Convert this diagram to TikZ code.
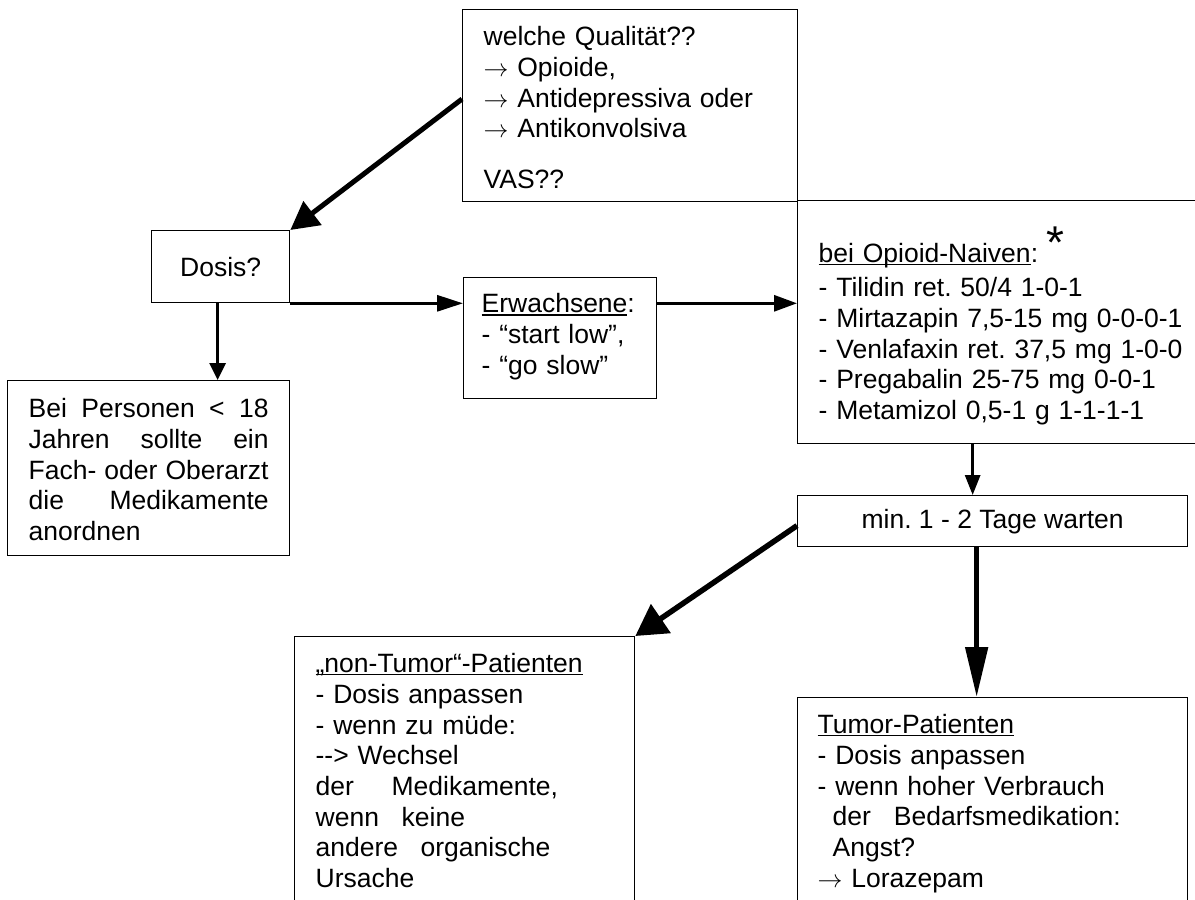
\documentclass[tikz,border=0pt]{standalone}
\usepackage{fontspec}
\setmainfont{Liberation Sans}
\usetikzlibrary{arrows.meta}
\newsavebox\ulbox
\newcommand\ulx[1]{\sbox\ulbox{#1}\rlap{\rule[-2.6pt]{\wd\ulbox}{1.2pt}}\usebox\ulbox}
\newcommand\arr{$\rightarrow$}
\newcommand\just[1]{\leavevmode\hbox to 240pt{#1}}
\tikzset{
  every node/.style={font=\fontsize{26.5pt}{30.7pt}\selectfont\frenchspacing},
  box/.style={draw, line width=1.3pt, rectangle, inner ysep=0pt, align=left},
  conn/.style n args={3}{line width=#1, -{Triangle[length=#2,width=#3]}},
}
\begin{document}
\begin{tikzpicture}[x=1pt,y=-1pt]
\useasboundingbox (0,0) rectangle (1195,900);
\fill[white] (0,0) rectangle (1195,900);
\clip (0,0) rectangle (1195,900);

\node[box, anchor=north west, inner xsep=21pt, text width=293pt, minimum width=335pt, minimum height=191pt] (qual) at (462,9)
{\rule{0pt}{36pt}welche Qualität??\\
\arr\ Opioide,\\
\arr\ Antidepressiva oder\\
\arr\ Antikonvolsiva\\[20pt]
VAS??\rule[-13pt]{0pt}{13pt}};

\node[box, anchor=north west, minimum width=138pt, minimum height=72pt, align=center] (dosis) at (151,230) {Dosis?};

\node[box, anchor=north west, inner xsep=21pt, text width=240pt, minimum width=282pt, minimum height=175pt] (pers) at (7,380)
{\rule{0pt}{37pt}\just{Bei\hfill Personen\hfill <\hfill 18}\\
\just{Jahren\hfill sollte\hfill ein}\\
\just{Fach-\hfill oder\hfill Oberarzt}\\
\just{die\hfill Medikamente}\\
anordnen\rule[-15pt]{0pt}{15pt}};

\node[box, anchor=north west, inner xsep=18pt, text width=157pt, minimum width=193pt, minimum height=121pt] (erw) at (463,277)
{\rule{0pt}{35pt}\ulx{Erwachsene}:\\
- “start low”,\\
- “go slow”\rule[-24pt]{0pt}{24pt}};

\node[box, anchor=north west, inner xsep=21pt, text width=460pt, minimum width=502pt, minimum height=243pt] (opi) at (797,200)
{\rule{0pt}{62pt}\ulx{bei Opioid-Naiven}:\\[3.5pt]
- Tilidin ret. 50/4 1-0-1\\
- Mirtazapin 7,5-15 mg 0-0-0-1\\
- Venlafaxin ret. 37,5 mg 1-0-0\\
- Pregabalin 25-75 mg 0-0-1\\
- Metamizol 0,5-1 g 1-1-1-1\rule[-24pt]{0pt}{24pt}};

\node[font=\fontsize{46pt}{46pt}\selectfont, anchor=base, inner sep=0pt] (star) at (1055,258) {*};

\node[box, anchor=north west, minimum width=390pt, minimum height=51pt, align=center] (wait) at (797,495) {min. 1 - 2 Tage warten};

\node[box, anchor=north west, inner xsep=21pt, text width=298pt, minimum width=340pt] (nont) at (294,636)
{\rule{0pt}{36pt}\ulx{„non-Tumor“-Patienten}\\
- Dosis anpassen\\
- wenn zu müde:\\
-\kern0pt-\kern0pt> Wechsel\\
der\hspace{37.7pt}Medikamente,\\
wenn\hspace{22.7pt}keine\\
andere\hspace{22.5pt}organische\\
Ursache\rule[-45pt]{0pt}{45pt}};

\node[box, anchor=north west, inner xsep=20pt, text width=350pt, minimum width=390pt] (tum) at (797,697)
{\rule{0pt}{36pt}\ulx{Tumor-Patienten}\\
- Dosis anpassen\\
- wenn hoher Verbrauch\\
\hspace*{15pt}der\hspace{23pt}Bedarfsmedikation:\\
\hspace*{15pt}Angst?\\
\arr\ Lorazepam\rule[-45pt]{0pt}{45pt}};

\draw[conn={5pt}{28pt}{29pt}] ([yshift=6.5pt]qual.west) -- (dosis.north east);
\draw[conn={3pt}{17pt}{16pt}] ([xshift=-3pt]dosis.south) -- ([xshift=-3pt]dosis.south |- pers.north);
\draw[conn={3pt}{26pt}{16pt}] (dosis.south east) -- (dosis.south east -| erw.west);
\draw[conn={3pt}{23pt}{16pt}] (dosis.south east -| erw.east) -- (dosis.south east -| opi.west);
\draw[conn={3pt}{20pt}{15pt}] ([xshift=-20pt]wait.north |- opi.south) -- ([xshift=-20pt]wait.north);
\draw[conn={5.5pt}{31pt}{34pt}] ([yshift=-4.5pt]wait.west) -- (nont.north east);
\draw[conn={5pt}{50pt}{22pt}] ([xshift=-16pt]wait.south) -- ([xshift=-16pt]wait.south |- tum.north);
\end{tikzpicture}
\end{document}
